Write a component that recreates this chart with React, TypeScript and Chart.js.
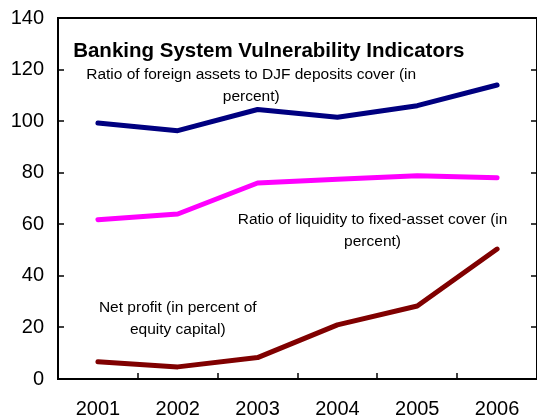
import React, { useEffect, useRef } from "react";
import { Chart, registerables } from "chart.js";

Chart.register(...registerables);

const years = ["2001", "2002", "2003", "2004", "2005", "2006"];
const foreignAssets = [99.3, 96.3, 104.5, 101.5, 106, 114];
const liquidity = [61.8, 64, 76, 77.5, 78.8, 78];
const netProfit = [6.7, 4.7, 8.3, 21, 28.3, 50.4];
const yTicks = [0, 20, 40, 60, 80, 100, 120, 140];

const titleText = "Banking System Vulnerability Indicators";
const foreignLabel = ["Ratio of foreign assets to DJF deposits cover (in", "percent)"];
const liquidityLabel = ["Ratio of liquidity to fixed-asset cover (in", "percent)"];
const profitLabel = ["Net profit (in percent of", "equity capital)"];

const FONT = "'Liberation Sans', Arial, sans-serif";

const framePlugin = {
  id: "frame",
  afterDraw(chart: any) {
    const { ctx, chartArea } = chart;
    const { left, right, top, bottom } = chartArea;
    const xs = chart.scales.x;
    const ys = chart.scales.y;
    ctx.save();
    ctx.strokeStyle = "#000";
    ctx.lineWidth = 2;
    ctx.beginPath();
    ctx.rect(left, top, right - left, bottom - top);
    ctx.stroke();
    ctx.lineWidth = 1.5;
    ctx.beginPath();
    yTicks.forEach((v) => {
      const y = Math.round(ys.getPixelForValue(v));
      ctx.moveTo(left, y);
      ctx.lineTo(left + 6, y);
      ctx.moveTo(right, y);
      ctx.lineTo(right - 6, y);
    });
    for (let i = 1; i < years.length; i++) {
      const x = Math.round(xs.getPixelForValue(i - 0.5));
      ctx.moveTo(x, bottom);
      ctx.lineTo(x, bottom - 6);
    }
    ctx.stroke();

    // annotations
    ctx.fillStyle = "#000";
    ctx.textBaseline = "middle";
    ctx.font = `bold 20.5px ${FONT}`;
    ctx.textAlign = "left";
    ctx.fillText(titleText, xs.getPixelForValue(-0.31), ys.getPixelForValue(127));

    ctx.font = `15.5px ${FONT}`;
    ctx.textAlign = "center";
    const drawLines = (lines: string[], xv: number, yv: number) => {
      const x = xs.getPixelForValue(xv);
      const y = ys.getPixelForValue(yv);
      lines.forEach((l, i) => ctx.fillText(l, x, y + i * 22));
    };
    drawLines(foreignLabel, 1.92, 118);
    drawLines(liquidityLabel, 3.44, 61.7);
    drawLines(profitLabel, 1.0, 27.8);
    ctx.restore();
  },
};

export default function App() {
  const ref = useRef<HTMLCanvasElement>(null);
  useEffect(() => {
    if (!ref.current) return;
    const common = { borderWidth: 5, pointRadius: 0, tension: 0, borderCapStyle: "round" as const, borderJoinStyle: "round" as const };
    const chart = new Chart(ref.current, {
      type: "line",
      data: {
        labels: years,
        datasets: [
          { data: foreignAssets, borderColor: "#000080", ...common },
          { data: liquidity, borderColor: "#FF00FF", ...common },
          { data: netProfit, borderColor: "#800000", ...common },
        ],
      },
      options: {
        responsive: false,
        animation: false,
        layout: { padding: { top: 18, right: 0, left: 0, bottom: 0 } },
        plugins: { legend: { display: false }, tooltip: { enabled: false } },
        scales: {
          x: {
            offset: true,
            grid: { display: false, drawTicks: false },
            border: { display: false },
            ticks: { color: "#000", font: { family: FONT, size: 20 }, padding: 18, maxRotation: 0 },
            afterFit: (s: any) => { s.height = 41; s.paddingLeft = 0; s.paddingRight = 0; },
          },
          y: {
            min: 0,
            max: 140,
            grid: { display: false, drawTicks: false },
            border: { display: false },
            ticks: { color: "#000", font: { family: FONT, size: 20 }, padding: 14, stepSize: 20 },
            afterFit: (s: any) => { s.width = 58; s.paddingTop = 0; s.paddingBottom = 0; },
          },
        },
      },
      plugins: [framePlugin],
    });
    return () => chart.destroy();
  }, []);
  return (
    <div style={{ position: "absolute", left: 0, top: 0, width: 537, height: 420, background: "#fff" }}>
      <canvas ref={ref} width={537} height={420} />
    </div>
  );
}
